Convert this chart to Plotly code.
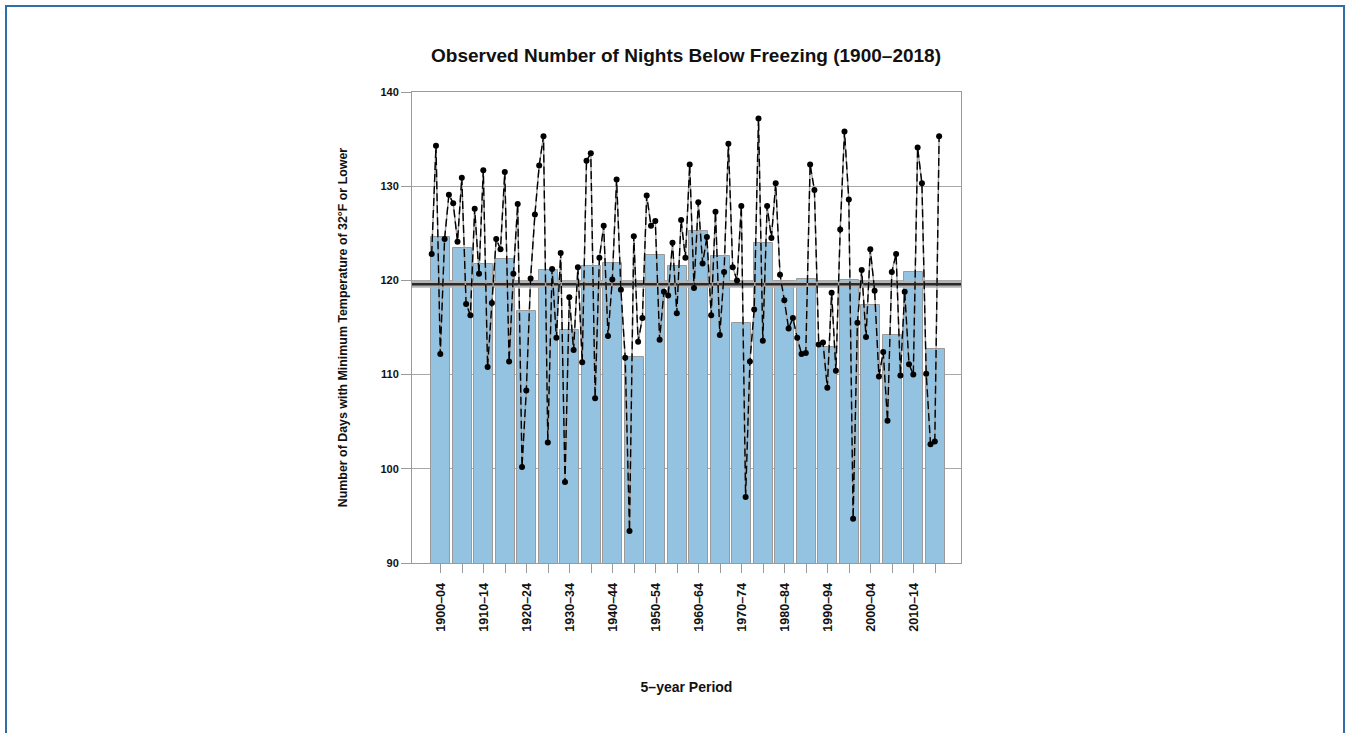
import plotly.graph_objects as go

# Annual count of nights at or below 32°F, 1900-2018
years = list(range(1900, 2019))
nights = [
    122.8, 134.3, 112.2, 124.4, 129.1,   # 1900-04
    128.2, 124.1, 130.9, 117.5, 116.3,   # 1905-09
    127.6, 120.7, 131.7, 110.8, 117.6,   # 1910-14
    124.4, 123.3, 131.5, 111.4, 120.7,   # 1915-19
    128.1, 100.2, 108.3, 120.2, 127.0,   # 1920-24
    132.2, 135.3, 102.8, 121.2, 113.9,   # 1925-29
    122.9, 98.6, 118.2, 112.6, 121.4,    # 1930-34
    111.3, 132.7, 133.5, 107.5, 122.4,   # 1935-39
    125.8, 114.1, 120.1, 130.7, 119.0,   # 1940-44
    111.8, 93.4, 124.7, 113.5, 116.0,    # 1945-49
    129.0, 125.8, 126.3, 113.7, 118.8,   # 1950-54
    118.4, 124.0, 116.5, 126.4, 122.4,   # 1955-59
    132.3, 119.2, 128.3, 121.8, 124.6,   # 1960-64
    116.3, 127.3, 114.2, 120.9, 134.5,   # 1965-69
    121.4, 120.0, 127.9, 97.0, 111.4,    # 1970-74
    116.9, 137.2, 113.6, 127.9, 124.5,   # 1975-79
    130.3, 120.6, 117.9, 114.9, 116.0,   # 1980-84
    113.9, 112.2, 112.3, 132.3, 129.6,   # 1985-89
    113.2, 113.4, 108.6, 118.7, 110.4,   # 1990-94
    125.4, 135.8, 128.6, 94.7, 115.5,    # 1995-99
    121.1, 114.0, 123.3, 118.9, 109.8,   # 2000-04
    112.4, 105.1, 120.9, 122.8, 109.9,   # 2005-09
    118.8, 111.1, 110.0, 134.1, 130.3,   # 2010-14
    110.1, 102.6, 102.9, 135.3,          # 2015-18
]

# 5-year period averages
periods = [
    "1900–04", "1905–09", "1910–14", "1915–19", "1920–24", "1925–29",
    "1930–34", "1935–39", "1940–44", "1945–49", "1950–54", "1955–59",
    "1960–64", "1965–69", "1970–74", "1975–79", "1980–84", "1985–89",
    "1990–94", "1995–99", "2000–04", "2005–09", "2010–14", "2015–18",
]
period_means = [
    124.6, 123.4, 121.7, 122.3, 116.8, 121.1,
    114.7, 121.5, 121.9, 111.9, 122.7, 121.5,
    125.2, 122.6, 115.5, 124.0, 119.9, 120.1,
    112.9, 120.0, 117.4, 114.2, 120.9, 112.7,
]
long_term_mean = 119.6

FONT = "Liberation Sans, Arial, Helvetica, sans-serif"

# each period bar sits over its five years
period_start = [1900 + 5 * i for i in range(len(periods))]
bar_x = [s + 2.1 for s in period_start]
tick_text = [p if i % 2 == 0 else "" for i, p in enumerate(periods)]

x_lo, x_hi = 1895.42, 2023.09

fig = go.Figure()

fig.add_trace(go.Bar(
    x=bar_x, y=period_means, width=4.45,
    marker=dict(color="#94c3e1", line=dict(color="#9a9a9a", width=1)),
    hoverinfo="skip", showlegend=False,
))

# long-term average line (grey halo under a dark core)
fig.add_trace(go.Scatter(
    x=[x_lo, x_hi], y=[long_term_mean, long_term_mean], mode="lines",
    line=dict(color="#b5b5b5", width=7), hoverinfo="skip", showlegend=False,
))
fig.add_trace(go.Scatter(
    x=[x_lo, x_hi], y=[long_term_mean, long_term_mean], mode="lines",
    line=dict(color="#2a2a2a", width=2.5), hoverinfo="skip", showlegend=False,
))

# annual series: grey base line with black dashes and dots
fig.add_trace(go.Scatter(
    x=years, y=nights, mode="lines",
    line=dict(color="#a0a0a0", width=1.4), hoverinfo="skip", showlegend=False,
))
fig.add_trace(go.Scatter(
    x=years, y=nights, mode="lines+markers",
    line=dict(color="#000000", width=1.4, dash="8px,4px"),
    marker=dict(color="#000000", size=6),
    showlegend=False,
))

fig.update_layout(
    width=1350, height=733,
    margin=dict(l=412, r=389, t=92, b=170),
    paper_bgcolor="white", plot_bgcolor="white",
    font=dict(family=FONT, color="#111111"),
    title=dict(
        text="Observed Number of Nights Below Freezing (1900–2018)",
        font=dict(size=19, family=FONT, weight="bold", color="#111111"),
        x=(686 / 1350), xanchor="center", y=1 - 55 / 733, yanchor="middle",
    ),
    xaxis=dict(
        range=[x_lo, x_hi],
        tickmode="array", tickvals=bar_x, ticktext=tick_text,
        tickangle=-90, ticks="outside", ticklen=9, tickcolor="#9a9a9a",
        ticklabelstandoff=5,
        tickfont=dict(size=12.5, family=FONT, weight="bold", color="#111111"),
        showgrid=False, zeroline=False,
        showline=True, linecolor="#9a9a9a", linewidth=1, mirror=True,
        title=dict(text="5–year Period", standoff=51,
                   font=dict(size=14, family=FONT, weight="bold", color="#111111")),
    ),
    yaxis=dict(
        range=[90, 140],
        tickvals=[90, 100, 110, 120, 130, 140],
        ticks="outside", ticklen=10, tickcolor="#9a9a9a",
        tickfont=dict(size=11, family=FONT, weight="bold", color="#111111"),
        showgrid=True, gridcolor="#a8a8a8", gridwidth=1, zeroline=False,
        showline=True, linecolor="#9a9a9a", linewidth=1, mirror=True,
        title=dict(text="Number of Days with Minimum Temperature of 32°F or Lower",
                   standoff=30,
                   font=dict(size=12.4, family=FONT, weight="bold", color="#111111")),
    ),
    bargap=0,
    shapes=[
        dict(type="rect", xref="paper", yref="paper",
             x0=(6 - 412) / 549, x1=(1344 - 412) / 549,
             y0=(563 - 745) / 471, y1=(563 - 6) / 471,
             line=dict(color="#2f6ea6", width=2), fillcolor="rgba(0,0,0,0)",
             layer="below"),
    ],
)

fig.write_html("out.html")
